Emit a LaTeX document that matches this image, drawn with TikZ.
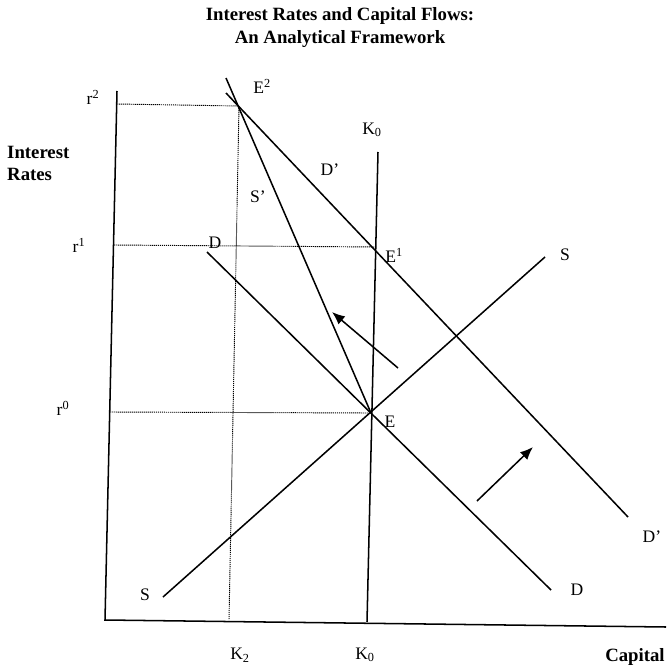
\documentclass[tikz,border=0pt]{standalone}
\usepackage{fontspec}
\setmainfont{Liberation Serif}
\usetikzlibrary{arrows.meta}
\begin{document}
\begin{tikzpicture}[x=0.03cm,y=-0.03cm,
  curve/.style={line width=1.3pt},
  axisline/.style={line width=1.3pt},
  guide/.style={line width=0.8pt,dash pattern=on 1pt off 0.7pt},
  shift arrow/.style={line width=1.3pt,-{Latex[length=11pt,width=9pt]}},
  lbl/.style={font=\fontsize{15}{17}\selectfont,inner sep=0pt},
  blbl/.style={font=\bfseries\fontsize{16}{19}\selectfont,inner sep=0pt}]
\useasboundingbox (0,0) rectangle (666,670);
% key points
\coordinate (E2) at (239,106);
\coordinate (E1) at (376,247);
\coordinate (E) at (371,413);
\coordinate (ytop) at (117,91);
\coordinate (origin) at (105,620);
\coordinate (xend) at (666,627);
\coordinate (K0top) at (378,152);
\coordinate (K0bot) at (367,622);
\coordinate (K2bot) at (229,620);
\coordinate (r2) at (117,104);
\coordinate (r1) at (114,245);
\coordinate (r0) at (110,412);
\coordinate (Sptop) at (226,78);
\coordinate (Dpa) at (226,93);
\coordinate (Dpb) at (628,517);
\coordinate (Da) at (207,252);
\coordinate (Db) at (551,590);
\coordinate (Sa) at (163,597);
\coordinate (Sb) at (545,257);
\coordinate (a1s) at (398,368);
\coordinate (a1e) at (332,312);
\coordinate (a2s) at (477,501);
\coordinate (a2e) at (533,447);
% guides
\draw[guide] (r2) -- (E2);
\draw[guide] (r1) -- (E1);
\draw[guide] (r0) -- (E);
\draw[guide] (E2) -- (K2bot);
% axes
\draw[axisline] (ytop) -- (origin) -- (xend);
\draw[axisline] (K0top) -- (K0bot);
% curves
\draw[curve] (Sptop) -- (E);
\draw[curve] (Dpa) -- (Dpb);
\draw[curve] (Da) -- (Db);
\draw[curve] (Sa) -- (Sb);
% shift arrows
\draw[shift arrow] (a1s) -- (a1e);
\draw[shift arrow] (a2s) -- (a2e);
% title
\node[blbl] (t1) at (340,16) {Interest Rates and Capital Flows:};
\node[blbl] (t2) at (340,39) {An Analytical Framework};
% axis labels
\node[blbl,anchor=west] (ir1) at (7,152) {Interest};
\node[blbl,anchor=west] (ir2) at (7,174) {Rates};
\node[blbl] (cap) at (635,657) {Capital};
\node[lbl] (lr2) at (93,97) {r\textsuperscript{2}};
\node[lbl] (lr1) at (79,245) {r\textsuperscript{1}};
\node[lbl] (lr0) at (63,408) {r\textsuperscript{0}};
\node[lbl] (lK2) at (240,655) {K\textsubscript{2}};
\node[lbl] (lK0b) at (365,655) {K\textsubscript{0}};
% curve labels
\node[lbl] (lE2) at (262,86) {E\textsuperscript{2}};
\node[lbl] (lSp) at (258,197) {S'};
\node[lbl] (lDp1) at (330,170) {D'};
\node[lbl] (lK0t) at (372,130) {K\textsubscript{0}};
\node[lbl] (lE1) at (394,255) {E\textsuperscript{1}};
\node[lbl] (lS1) at (565,255) {S};
\node[lbl] (lD1) at (215,243) {D};
\node[lbl] (lE) at (390,422) {E};
\node[lbl] (lDp2) at (652,537) {D'};
\node[lbl] (lD2) at (577,590) {D};
\node[lbl] (lS2) at (145,595) {S};
\end{tikzpicture}
\end{document}
